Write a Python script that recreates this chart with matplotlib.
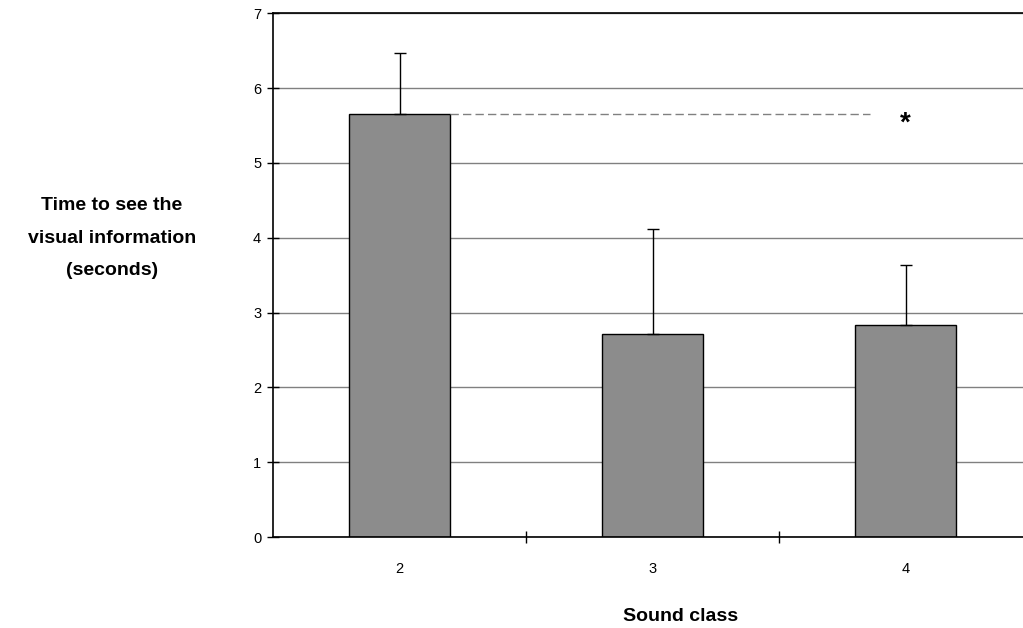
import numpy as np
import matplotlib
matplotlib.use("Agg")
import matplotlib.pyplot as plt

plt.rcParams['font.family'] = ['Liberation Sans', 'DejaVu Sans']

classes = ["2", "3", "4"]
means = [5.65, 2.71, 2.83]
err_up = [0.82, 1.41, 0.81]
sig_level = 5.65
yticks = [0, 1, 2, 3, 4, 5, 6, 7]

fig = plt.figure(figsize=(10.23, 6.28), dpi=100)
ax = fig.add_axes([0.2669, 0.1449, 0.742, 0.834])

x = np.arange(len(classes))
ax.set_axisbelow(True)
ax.yaxis.grid(True, color='#808080', linewidth=1.0)
ax.bar(x, means, width=0.4, color='#8c8c8c', edgecolor='black', linewidth=1.0, zorder=2)
ax.errorbar(x, means, yerr=[np.zeros(len(x)), err_up], fmt='none', ecolor='black',
            elinewidth=1.0, capsize=4, capthick=1.0, zorder=3)

# significance marker
ax.plot([x[0] + 0.2, 1.86], [sig_level, sig_level], linestyle=(0, (6, 3)), color='#808080',
        linewidth=1.0, zorder=3)
ax.text(2.0, 5.52, '*', ha='center', va='center', fontsize=20, fontweight='bold')

ax.set_xlim(-0.5, 2.5)
ax.set_ylim(0, 7)
ax.set_yticks(yticks)
ax.set_xticks([0.5, 1.5])
ax.set_xticklabels([])
ax.set_xticks(x, minor=True)
ax.set_xticklabels(classes, minor=True)
ax.tick_params(axis='x', which='minor', length=0, pad=18, labelsize=10.5)
ax.tick_params(axis='x', which='major', direction='inout', length=9, width=1)
ax.tick_params(axis='y', direction='inout', length=9, width=1, labelsize=10.5, pad=4)

for s in ['left', 'bottom', 'top']:
    ax.spines[s].set_linewidth(1.2)
ax.spines['right'].set_visible(False)

fig.text(0.1095, 0.621, 'Time to see the\nvisual information\n(seconds)', ha='center', va='center',
         fontsize=14, fontweight='bold', linespacing=2.2)
fig.text(0.665, 0.019, 'Sound class', ha='center', va='center', fontsize=14, fontweight='bold')

fig.savefig('out.png', dpi=100)
